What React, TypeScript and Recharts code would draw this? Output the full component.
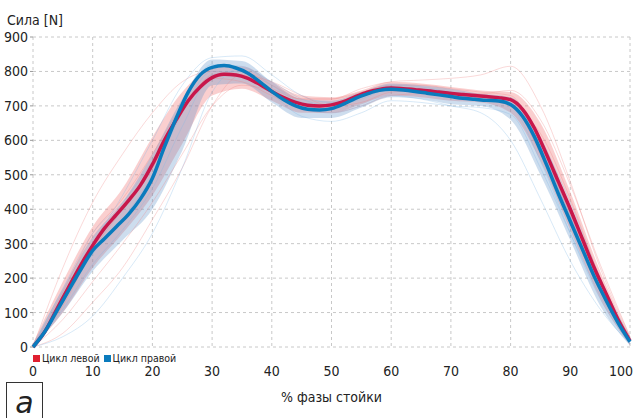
import React from 'react';
import { ComposedChart, Line, Area, XAxis, YAxis, CartesianGrid } from 'recharts';

// Force profile over the stance phase, left vs right cycles
const FONT = "'Liberation Sans Narrow', 'DejaVu Sans Condensed', 'Roboto', sans-serif";

const RED = '#c8174b';
const BLUE = '#0a7bbd';

const X_MEAN = [0, 2, 4, 6, 8, 10, 12, 14, 16, 18, 20, 22, 24, 26, 28, 30, 32, 34, 36, 38, 40, 42, 44, 46, 48, 50,
  52, 54, 56, 58, 60, 62, 64, 66, 68, 70, 72, 74, 76, 78, 80, 82, 84, 86, 88, 90, 92, 94, 96, 98, 100];
const LEFT_MEAN = [0, 45, 110, 175, 238, 295, 345, 385, 425, 470, 530, 600, 660, 715, 755, 782, 792, 790, 780, 762, 742,
  724, 710, 702, 700, 703, 712, 727, 740, 748, 752, 750, 747, 744, 740, 736, 733, 730, 727, 724, 718, 690, 635, 560, 480,
  400, 315, 230, 155, 80, 18];
const RIGHT_MEAN = [0, 45, 105, 165, 225, 280, 315, 350, 385, 430, 490, 580, 665, 740, 790, 812, 817, 810, 795, 770, 742,
  718, 700, 690, 688, 692, 705, 722, 735, 745, 748, 746, 742, 737, 732, 727, 722, 719, 716, 714, 704, 670, 610, 530, 445,
  365, 285, 205, 135, 70, 15];

const X_TRIAL = [0, 5, 10, 15, 20, 25, 30, 35, 40, 45, 50, 55, 60, 65, 70, 75, 80, 85, 90, 95, 100];
const LEFT_LOW = [0, 100, 230, 330, 440, 590, 730, 750, 715, 680, 680, 705, 730, 725, 715, 710, 680, 540, 340, 140, 5];
const LEFT_HIGH = [10, 190, 350, 460, 610, 740, 810, 815, 770, 730, 725, 745, 770, 765, 755, 745, 740, 650, 450, 220, 30];
const RIGHT_LOW = [0, 100, 220, 310, 400, 570, 760, 765, 710, 665, 665, 695, 725, 720, 705, 700, 660, 500, 310, 120, 5];
const RIGHT_HIGH = [10, 170, 320, 420, 560, 720, 835, 830, 770, 720, 715, 740, 765, 760, 750, 735, 725, 610, 410, 200, 30];

const LEFT_TRIALS = [
  [0, 230, 420, 560, 680, 770, 800, 790, 750, 720, 720, 740, 760, 760, 750, 740, 730, 580, 380, 180, 20],
  [0, 40, 130, 230, 370, 520, 700, 790, 770, 730, 700, 710, 740, 745, 740, 735, 745, 660, 470, 240, 30],
  [0, 120, 280, 400, 520, 680, 790, 800, 760, 720, 720, 750, 770, 775, 780, 790, 815, 700, 480, 230, 30],
  [0, 160, 330, 430, 560, 700, 780, 770, 730, 700, 700, 730, 755, 750, 735, 725, 705, 560, 360, 160, 15],
  [0, 80, 190, 300, 420, 560, 700, 760, 740, 690, 680, 700, 730, 735, 730, 720, 700, 620, 430, 200, 20],
];
const RIGHT_TRIALS = [
  [0, 150, 300, 440, 600, 760, 840, 845, 790, 730, 710, 730, 760, 755, 740, 730, 700, 540, 330, 140, 10],
  [0, 30, 90, 200, 330, 520, 740, 810, 770, 720, 700, 720, 750, 740, 730, 720, 715, 600, 420, 200, 20],
  [0, 130, 270, 370, 500, 680, 800, 800, 740, 690, 680, 700, 730, 720, 700, 680, 600, 430, 250, 110, 10],
  [0, 110, 240, 340, 460, 640, 790, 800, 735, 670, 655, 680, 715, 710, 700, 695, 675, 520, 330, 150, 15],
  [0, 170, 330, 420, 540, 700, 820, 815, 760, 710, 700, 725, 755, 750, 740, 730, 720, 580, 380, 170, 15],
];

const X_TICKS = [0, 10, 20, 30, 40, 50, 60, 70, 80, 90, 100];
const Y_TICKS = [0, 100, 200, 300, 400, 500, 600, 700, 800, 900];

type Row = Record<string, any>;

function buildRows(): Row[] {
  const rows = new Map<number, Row>();
  const get = (x: number) => {
    if (!rows.has(x)) rows.set(x, { x });
    return rows.get(x)!;
  };
  X_MEAN.forEach((x, i) => {
    const r = get(x);
    r.left = LEFT_MEAN[i];
    r.right = RIGHT_MEAN[i];
  });
  X_TRIAL.forEach((x, i) => {
    const r = get(x);
    r.leftBand = [LEFT_LOW[i], LEFT_HIGH[i]];
    r.rightBand = [RIGHT_LOW[i], RIGHT_HIGH[i]];
    LEFT_TRIALS.forEach((t, k) => (r[`lt${k}`] = t[i]));
    RIGHT_TRIALS.forEach((t, k) => (r[`rt${k}`] = t[i]));
  });
  return [...rows.values()].sort((a, b) => a.x - b.x);
}

const rows = buildRows();

// last label sits flush with the right edge, like the original
function XTick(props: any) {
  const { x, y, payload } = props;
  const last = payload.value === 100;
  return (
    <text x={last ? x + 3 : x} y={y} dy="0.71em" textAnchor={last ? 'end' : 'middle'}
      fontSize={14} fill="#222" fontFamily={FONT}>
      {payload.value}
    </text>
  );
}

export default function App() {
  return (
    <div style={{ position: 'absolute', left: 0, top: 0, width: 633, height: 418, background: '#fff', fontFamily: FONT }}>
      <ComposedChart width={633} height={418} data={rows} margin={{ top: 37, right: 3, left: 0, bottom: 41 }}>
        <CartesianGrid stroke="#c8c8c8" strokeDasharray="3 3" />
        <XAxis
          dataKey="x"
          type="number"
          domain={[0, 100]}
          ticks={X_TICKS}
          height={30}
          axisLine={false}
          tickLine={false}
          tickSize={0}
          tickMargin={19}
          tick={<XTick />}
          interval={0}
        />
        <YAxis
          type="number"
          domain={[0, 900]}
          ticks={Y_TICKS}
          width={33}
          axisLine={false}
          tickLine={{ stroke: '#999' }}
          tickSize={3}
          tickMargin={2}
          tick={{ fontSize: 14, fill: '#222', fontFamily: FONT }}
          interval={0}
        />

        {/* dense spread of individual cycles */}
        <Area type="monotone" dataKey="leftBand" stroke="none" fill="#ee6a6a" fillOpacity={0.32} connectNulls isAnimationActive={false} />
        <Area type="monotone" dataKey="rightBand" stroke="none" fill="#5a8fc8" fillOpacity={0.3} connectNulls isAnimationActive={false} />

        {LEFT_TRIALS.map((_, k) => (
          <Line key={`lt${k}`} type="monotone" dataKey={`lt${k}`} stroke="#f08080" strokeOpacity={0.3} strokeWidth={1}
            dot={false} activeDot={false} connectNulls isAnimationActive={false} />
        ))}
        {RIGHT_TRIALS.map((_, k) => (
          <Line key={`rt${k}`} type="monotone" dataKey={`rt${k}`} stroke="#7fb6e6" strokeOpacity={0.3} strokeWidth={1}
            dot={false} activeDot={false} connectNulls isAnimationActive={false} />
        ))}

        <Line type="monotone" dataKey="left" stroke={RED} strokeWidth={3.5} dot={false} activeDot={false} connectNulls isAnimationActive={false} />
        <Line type="monotone" dataKey="right" stroke={BLUE} strokeWidth={3.5} dot={false} activeDot={false} connectNulls isAnimationActive={false} />
      </ComposedChart>

      <div style={{ position: 'absolute', left: 7, top: 12, fontSize: 14, color: '#222' }}>Сила [N]</div>

      <div style={{ position: 'absolute', left: 33, top: 352, fontSize: 10.5, color: '#222', display: 'flex', alignItems: 'center', whiteSpace: 'nowrap' }}>
        <span style={{ width: 7, height: 7, background: '#e02030', marginRight: 2 }} />
        <span style={{ marginRight: 4 }}>Цикл левой</span>
        <span style={{ width: 7, height: 7, background: BLUE, marginRight: 2 }} />
        <span>Цикл правой</span>
      </div>

      <div style={{ position: 'absolute', left: 0, width: 663, top: 389, textAlign: 'center', fontSize: 14, color: '#222' }}>
        % фазы стойки
      </div>

      <div style={{ position: 'absolute', left: 6, top: 382, width: 37, height: 40, border: '1.5px solid #333', boxSizing: 'border-box',
        display: 'flex', justifyContent: 'center', alignItems: 'center', fontSize: 30, fontStyle: 'italic', color: '#222',
        fontFamily: "'DejaVu Sans', sans-serif" }}>
        a
      </div>
    </div>
  );
}
